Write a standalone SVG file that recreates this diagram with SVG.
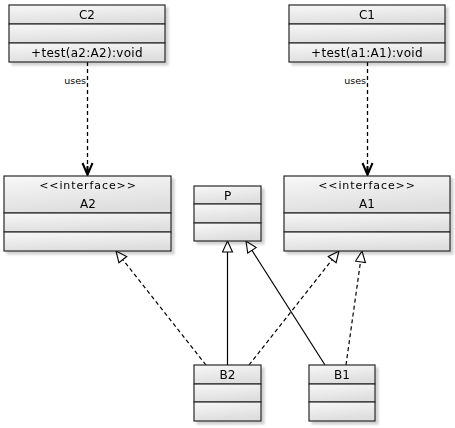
<svg xmlns="http://www.w3.org/2000/svg" width="455" height="428" viewBox="0 0 455 428">
<style>
.box{fill:url(#g);stroke:#2a2a2a;stroke-width:1.2}
.t{font-family:"DejaVu Sans",sans-serif;font-size:12px;fill:#000;text-anchor:middle}
.st{font-family:"DejaVu Sans",sans-serif;font-size:11px;fill:#000;text-anchor:middle;letter-spacing:0.9px}
.m{font-family:"DejaVu Sans",sans-serif;font-size:12px;fill:#000;text-anchor:middle;letter-spacing:0.3px}
.lbl{font-family:"DejaVu Sans",sans-serif;font-size:9.5px;fill:#000;text-anchor:end}
.dep{fill:none;stroke:#000;stroke-width:1.3;stroke-dasharray:4,3}
.gen{fill:none;stroke:#000;stroke-width:1.2}
.gend{fill:none;stroke:#000;stroke-width:1.2;stroke-dasharray:4,3}
</style>
<defs>
<linearGradient id="g" x1="0" y1="0" x2="0.3" y2="1">
<stop offset="0" stop-color="#f8f8f8"/>
<stop offset="1" stop-color="#dedede"/>
</linearGradient>
<filter id="sh" x="-10%" y="-10%" width="130%" height="130%">
<feGaussianBlur in="SourceAlpha" stdDeviation="1.2"/>
<feOffset dx="2.5" dy="2.5"/>
<feComponentTransfer><feFuncA type="linear" slope="0.18"/></feComponentTransfer>
<feMerge><feMergeNode/><feMergeNode in="SourceGraphic"/></feMerge>
</filter>
<marker id="open" markerWidth="16" markerHeight="16" refX="13" refY="7" orient="auto" markerUnits="userSpaceOnUse">
<path d="M1,2 L13,7 L1,12 M13,7 L4,7" fill="none" stroke="#000" stroke-width="2"/>
</marker>
<marker id="tri" markerWidth="14" markerHeight="14" refX="12" refY="6" orient="auto" markerUnits="userSpaceOnUse">
<path d="M1,1 L12,6 L1,11 Z" fill="#fff" stroke="#000" stroke-width="1.1" stroke-dasharray="none"/>
</marker>
</defs>

<g id="connectors">
<line class="dep" x1="87.5" y1="62" x2="87.5" y2="175" marker-end="url(#open)"/>
<text class="lbl" x="86" y="84">uses</text>
<line class="dep" x1="367.5" y1="62" x2="367.5" y2="175" marker-end="url(#open)"/>
<text class="lbl" x="366" y="84">uses</text>
<line class="gend" x1="206" y1="365" x2="116" y2="251" marker-end="url(#tri)"/>
<line class="gen" x1="227.5" y1="365" x2="227.5" y2="241" marker-end="url(#tri)"/>
<line class="gen" x1="325" y1="365" x2="246" y2="241" marker-end="url(#tri)"/>
<line class="gend" x1="249" y1="365" x2="339" y2="251" marker-end="url(#tri)"/>
<line class="gend" x1="346" y1="365" x2="362" y2="251" marker-end="url(#tri)"/>
</g>

<g id="C2" filter="url(#sh)">
<rect class="box" x="9" y="5" width="156" height="19"/>
<rect class="box" x="9" y="24" width="156" height="19"/>
<rect class="box" x="9" y="43" width="156" height="19"/>
<text class="t" x="87" y="19">C2</text>
<text class="m" x="87" y="57">+test(a2:A2):void</text>
</g>

<g id="C1" filter="url(#sh)">
<rect class="box" x="289" y="5" width="156" height="19"/>
<rect class="box" x="289" y="24" width="156" height="19"/>
<rect class="box" x="289" y="43" width="156" height="19"/>
<text class="t" x="367" y="19">C1</text>
<text class="m" x="367" y="57">+test(a1:A1):void</text>
</g>

<g id="A2" filter="url(#sh)">
<rect class="box" x="4" y="176" width="167" height="37"/>
<rect class="box" x="4" y="213" width="167" height="19"/>
<rect class="box" x="4" y="232" width="167" height="19"/>
<text class="st" x="88" y="189">&lt;&lt;interface&gt;&gt;</text>
<text class="t" x="88" y="208">A2</text>
</g>

<g id="P" filter="url(#sh)">
<rect class="box" x="194" y="186" width="67" height="18"/>
<rect class="box" x="194" y="204" width="67" height="19"/>
<rect class="box" x="194" y="223" width="67" height="18"/>
<text class="t" x="227.5" y="200">P</text>
</g>

<g id="A1" filter="url(#sh)">
<rect class="box" x="284" y="176" width="166" height="37"/>
<rect class="box" x="284" y="213" width="166" height="19"/>
<rect class="box" x="284" y="232" width="166" height="19"/>
<text class="st" x="367" y="189">&lt;&lt;interface&gt;&gt;</text>
<text class="t" x="367" y="208">A1</text>
</g>

<g id="B2" filter="url(#sh)">
<rect class="box" x="194" y="365" width="67" height="19"/>
<rect class="box" x="194" y="384" width="67" height="18"/>
<rect class="box" x="194" y="402" width="67" height="19"/>
<text class="t" x="227.5" y="379">B2</text>
</g>

<g id="B1" filter="url(#sh)">
<rect class="box" x="309" y="365" width="66" height="19"/>
<rect class="box" x="309" y="384" width="66" height="18"/>
<rect class="box" x="309" y="402" width="66" height="19"/>
<text class="t" x="342" y="379">B1</text>
</g>
</svg>
